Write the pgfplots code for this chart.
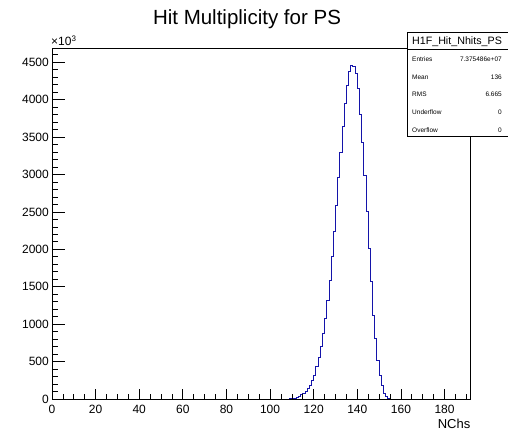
\documentclass[border=0pt]{standalone}
\usepackage{fontspec}
\setmainfont{Liberation Sans}
\usepackage{pgfplots}
\usepackage{pgfplotstable}
\pgfplotsset{compat=1.18}
\definecolor{histblue}{RGB}{20,20,170}

% NChs histogram, bin left edge vs entries (x10^3)
\pgfplotstableread{
x y
108 0
109 3
110 8
111 14
112 22
113 35
114 55
115 75
116 100
117 140
118 185
119 245
120 320
121 432
122 555
123 699
124 870
125 1077
126 1322
127 1589
128 1900
129 2240
130 2580
131 2955
132 3300
133 3645
134 3950
135 4192
136 4370
137 4459
138 4450
139 4348
140 4147
141 3807
142 3430
143 2990
144 2501
145 2015
146 1568
147 1120
148 805
149 521
150 315
151 180
152 78
153 31
154 9
155 0
}\hitdata

\begin{document}
\begin{tikzpicture}
\useasboundingbox (0pt,0pt) rectangle (508pt,431pt);
\begin{axis}[
  at={(52pt,32pt)}, anchor=south west,
  scale only axis, width=418.7pt, height=351pt,
  xmin=0, xmax=192, ymin=0, ymax=4690,
  axis on top,
  axis line style={line width=0.8pt},
  tick pos=left, tick align=inside,
  xtick={0,20,...,180}, minor xtick={0,5,...,190},
  ytick={0,500,...,4500}, minor ytick={0,100,...,4600},
  xtick style={line width=0.7pt, black, /pgfplots/major tick length=10.5pt, /pgfplots/minor tick length=5.3pt},
  ytick style={line width=0.7pt, black, /pgfplots/major tick length=12.6pt, /pgfplots/minor tick length=6.3pt},
  scaled ticks=false,
  /pgf/number format/assume math mode=true,
  /pgf/number format/1000 sep={},
  ticklabel style={font=\fontsize{12}{14}\selectfont},
  xticklabel style={anchor=north, inner sep=0pt, yshift=-5.5pt},
  yticklabel style={anchor=east, inner sep=0pt, xshift=-3pt},
]
\addplot[const plot, color=histblue, line width=0.9pt] table[x=x, y=y] {\hitdata};
\end{axis}

% title, exponent, axis title
\node[anchor=base, font=\fontsize{20.5}{24}\selectfont] at (247pt,406pt) {Hit Multiplicity for PS};
\node[anchor=base west, inner sep=0pt, font=\fontsize{12}{14}\selectfont] at (51pt,385pt) {×10\textsuperscript{3}};
\node[anchor=base east, inner sep=0pt, font=\fontsize{13}{15}\selectfont] at (470.5pt,3pt) {NChs};

% stats box
\draw[line width=0.8pt, fill=white] (407pt,295pt) rectangle (510pt,399pt);
\draw[line width=0.8pt] (407pt,382pt) -- (510pt,382pt);
\node[anchor=base, inner sep=0pt, font=\fontsize{10.7}{12}\selectfont] at (457pt,386pt) {H1F\_Hit\_Nhits\_PS};
\begin{scope}[every node/.style={inner sep=0pt, font=\fontsize{6.5}{8}\selectfont}]
\node[anchor=base west] at (412pt,369.5pt) {Entries};
\node[anchor=base east] at (502pt,369.5pt) {7.375486e+07};
\node[anchor=base west] at (412pt,351.7pt) {Mean};
\node[anchor=base east] at (502pt,351.7pt) {136};
\node[anchor=base west] at (412pt,334pt) {RMS};
\node[anchor=base east] at (502pt,334pt) {6.665};
\node[anchor=base west] at (412pt,316.2pt) {Underflow};
\node[anchor=base east] at (502pt,316.2pt) {0};
\node[anchor=base west] at (412pt,298.5pt) {Overflow};
\node[anchor=base east] at (502pt,298.5pt) {0};
\end{scope}
\end{tikzpicture}
\end{document}
